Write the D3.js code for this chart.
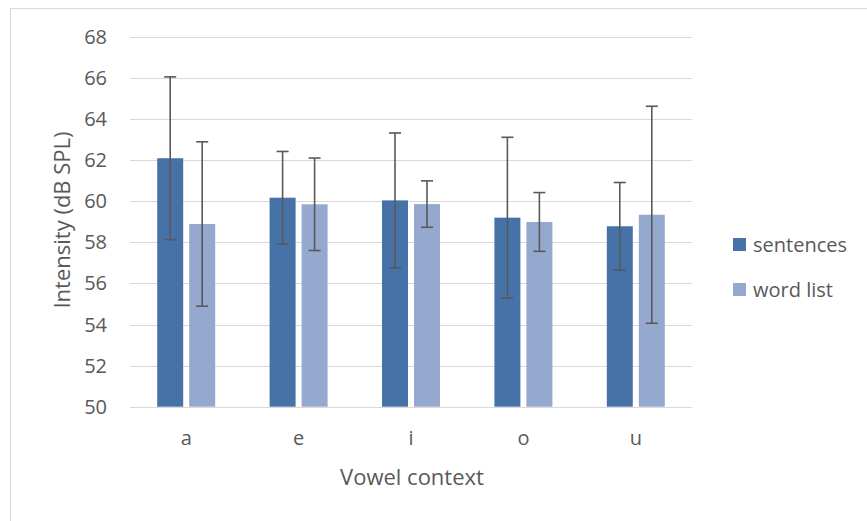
<!DOCTYPE html>
<html lang="en">
	<head>
		<meta charset="UTF-8">
		<title>Intensity by vowel context</title>
		<script src="https://cdnjs.cloudflare.com/ajax/libs/d3/7.8.5/d3.min.js"></script>
		<style>
			body {margin: 0; background: #fff;}
			text {font-family: "Open Sans", sans-serif; fill: #595959;}
		</style>
		<script>
var vowels = ["a", "e", "i", "o", "u"];
var seriesNames = ["sentences", "word list"];
var sentences = [62.09, 60.17, 60.04, 59.20, 58.78];
var sentencesErr = [3.96, 2.25, 3.28, 3.91, 2.13];
var wordList = [58.89, 59.85, 59.86, 58.99, 59.34];
var wordListErr = [4.00, 2.25, 1.13, 1.43, 5.28];
var yTicks = [50, 52, 54, 56, 58, 60, 62, 64, 66, 68];

function makeChart() {
	var W = 867, H = 521;
	var svg = d3.select("#chart").attr("width", W).attr("height", H);

	// chart area border (only top/left visible in the shot)
	svg.append("rect")
		.attr("x", 10.5).attr("y", 8.5)
		.attr("width", W + 10).attr("height", H + 10)
		.attr("fill", "none").attr("stroke", "#d9d9d9");

	var x0 = d3.scaleBand().domain(vowels).range([130, 692]);
	var x1 = d3.scaleBand().domain(seriesNames).range([-29, 29]).paddingInner(6/32);
	var y = d3.scaleLinear().domain([50, 68]).range([406.7, 36.8]);

	var colors = {"sentences": "#4672a8", "word list": "#95a9cf"};

	// gridlines
	svg.append("g").selectAll("line").data(yTicks).join("line")
		.attr("x1", 130).attr("x2", 692)
		.attr("y1", function(d) {return Math.round(y(d)) + 0.5;})
		.attr("y2", function(d) {return Math.round(y(d)) + 0.5;})
		.attr("stroke", "#d9d9d9").attr("stroke-width", 1.2);

	// y tick labels
	svg.append("g").selectAll("text").data(yTicks).join("text")
		.attr("x", 107).attr("y", function(d) {return y(d);})
		.attr("dy", "0.35em").attr("text-anchor", "end")
		.attr("font-size", 20)
		.text(function(d) {return d;});

	// x tick labels
	svg.append("g").selectAll("text").data(vowels).join("text")
		.attr("x", function(d) {return x0(d) + x0.bandwidth()/2;})
		.attr("y", 438).attr("dy", "0.35em").attr("text-anchor", "middle")
		.attr("font-size", 20)
		.text(function(d) {return d;});

	var rows = [];
	vowels.forEach(function(v, i) {
		rows.push({v: v, s: "sentences", val: sentences[i], err: sentencesErr[i]});
		rows.push({v: v, s: "word list", val: wordList[i], err: wordListErr[i]});
	});

	function cx(d) {return x0(d.v) + x0.bandwidth()/2 + x1(d.s);}

	svg.append("g").selectAll("rect").data(rows).join("rect")
		.attr("x", cx)
		.attr("y", function(d) {return y(d.val);})
		.attr("width", x1.bandwidth())
		.attr("height", function(d) {return y(50) - y(d.val);})
		.attr("fill", function(d) {return colors[d.s];});

	// error bars
	var eb = svg.append("g").attr("stroke", "#595959").attr("stroke-width", 1.6);
	rows.forEach(function(d) {
		var mx = cx(d) + x1.bandwidth()/2;
		var yt = y(d.val + d.err), yb = y(d.val - d.err);
		eb.append("line").attr("x1", mx).attr("x2", mx).attr("y1", yt).attr("y2", yb);
		eb.append("line").attr("x1", mx - 6).attr("x2", mx + 6).attr("y1", yt).attr("y2", yt);
		eb.append("line").attr("x1", mx - 6).attr("x2", mx + 6).attr("y1", yb).attr("y2", yb);
	});

	// axis titles
	svg.append("text")
		.attr("x", 412).attr("y", 477).attr("dy", "0.35em")
		.attr("text-anchor", "middle").attr("font-size", 22)
		.text("Vowel context");

	svg.append("text")
		.attr("transform", "translate(62,220) rotate(-90)")
		.attr("dy", "0.35em")
		.attr("text-anchor", "middle").attr("font-size", 22)
		.text("Intensity (dB SPL)");

	// legend
	var lg = svg.append("g").selectAll("g").data(seriesNames).join("g")
		.attr("transform", function(d, i) {return "translate(733," + (238 + i*45) + ")";});
	lg.append("rect").attr("width", 13).attr("height", 13)
		.attr("fill", function(d) {return colors[d];});
	lg.append("text").attr("x", 20).attr("y", 6.5).attr("dy", "0.35em")
		.attr("font-size", 20)
		.text(function(d) {return d;});
}
		</script>
	</head>
	<body onload="makeChart()">
		<svg id="chart"></svg>
	</body>
</html>
